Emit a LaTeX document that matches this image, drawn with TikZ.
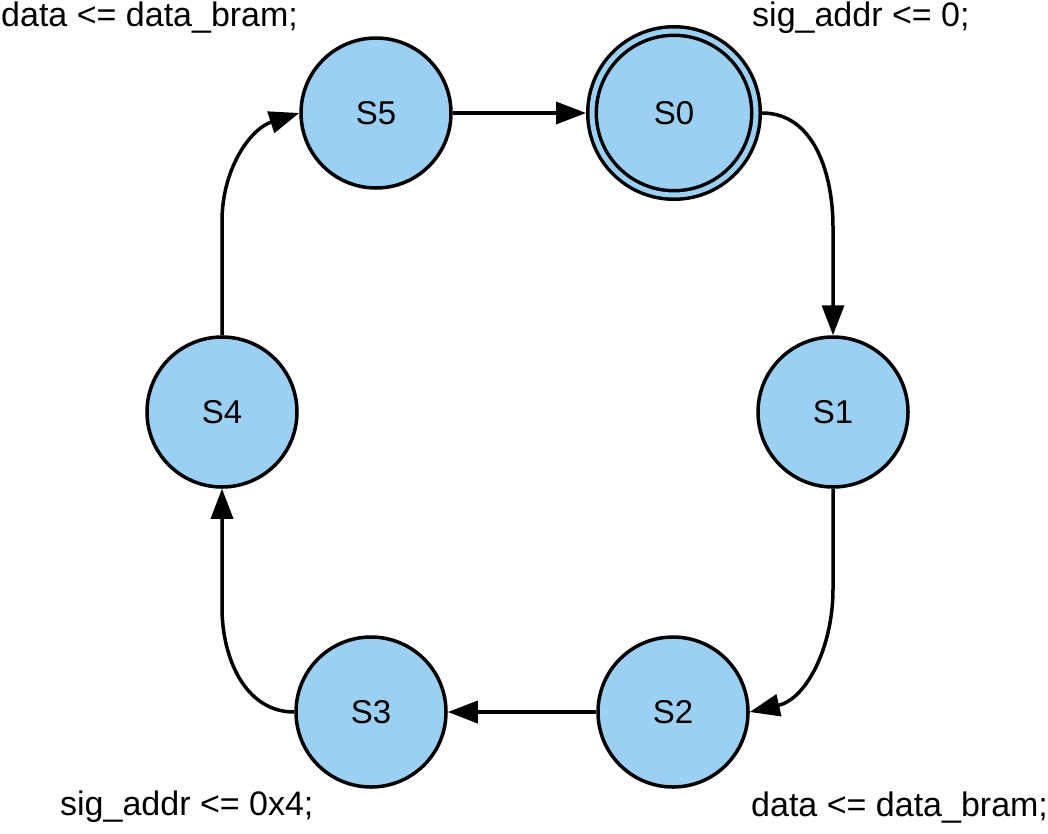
\documentclass[tikz,border=0pt]{standalone}
\usepackage{fontspec}
\setmainfont{Liberation Sans}
\usepackage{tikz}
\usetikzlibrary{arrows.meta,positioning}
\usepackage{xcolor}
\definecolor{stateblue}{RGB}{155,208,242}

\begin{document}
\begin{tikzpicture}[
  x=1pt,y=1pt,
  on grid,
  state/.style={circle,draw,fill=stateblue,line width=3.5pt,minimum size=150pt,inner sep=0pt,font=\fontsize{33}{40}\selectfont},
  initstate/.style={state,minimum size=164pt,double=stateblue,double distance=5pt,outer sep=6pt},
  note/.style={anchor=base west,inner sep=0pt,font=\fontsize{34}{41}\selectfont},
  arr/.style={-{Triangle[length=30pt,width=22pt]},line width=3.5pt}
]
\useasboundingbox (0,0) rectangle (1048,-833);
\node[state] (s5) at (376,-113) {S5};
\node[initstate,right=298pt of s5] (s0) {S0};
\node[state,below right=299pt and 159pt of s0] (s1) {S1};
\node[state,below left=300pt and 160pt of s1] (s2) {S2};
\node[state,left=302pt of s2] (s3) {S3};
\node[state,above left=300pt and 149pt of s3] (s4) {S4};
\node[note] (n5) at (1,-26) {data <= data\_bram;};
\node[note] (n0) at (752,-26) {sig\_addr <= 0;};
\node[note] (n3) at (60,-815) {sig\_addr <= 0x4;};
\node[note] (n2) at (751,-816) {data <= data\_bram;};
\draw[arr] (s5) -- (s0);
\draw[arr] (s0.east) to[out=0,in=90] ([yshift=108pt]s1.north) -- (s1.north);
\draw[arr] (s1.south) -- ([yshift=-100pt]s1.south) to[out=-90,in=13] (s2.east);
\draw[arr] (s2) -- (s3);
\draw[arr] (s3.west) to[out=180,in=-90] ([yshift=-119pt]s4.south) -- (s4.south);
\draw[arr] (s4.north) -- ([yshift=114pt]s4.north) to[out=90,in=-162] (s5.west);
\end{tikzpicture}
\end{document}
